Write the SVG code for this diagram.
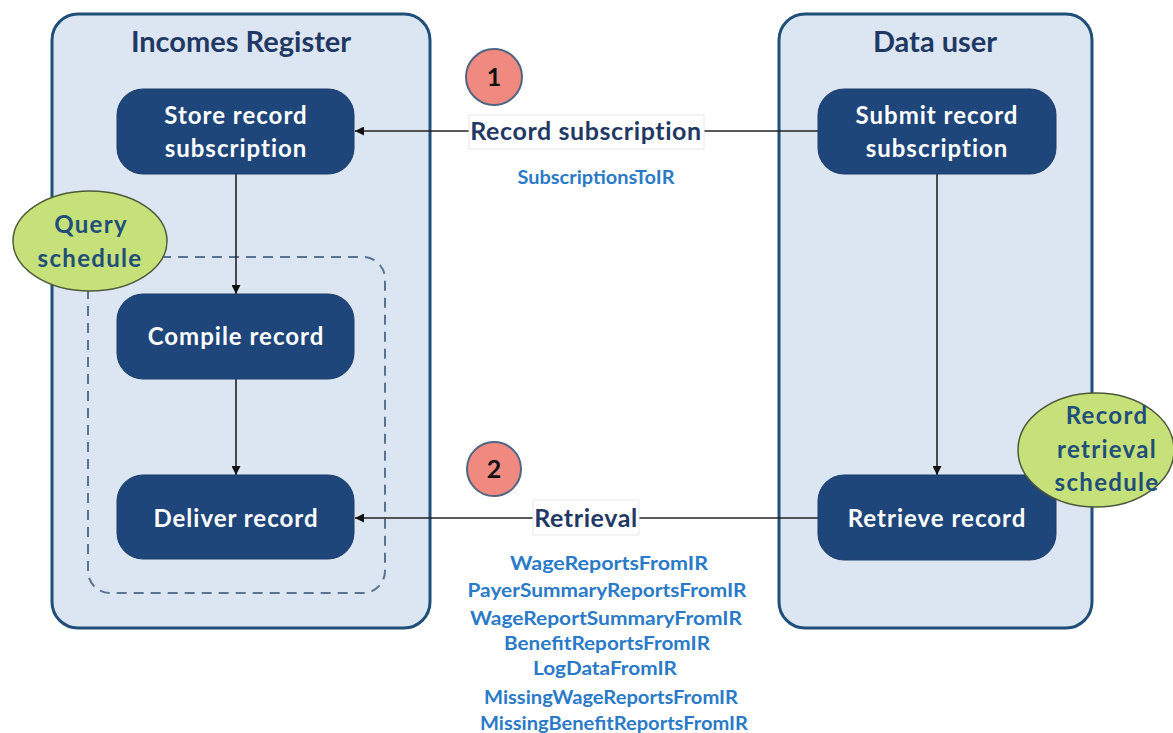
<svg xmlns="http://www.w3.org/2000/svg" width="1173" height="733" viewBox="0 0 1173 733">
<style>
.cont{fill:#dce6f2;stroke:#1f4e79;stroke-width:3}
.title{font-family:Lato,"Liberation Sans",sans-serif;font-weight:bold;font-size:29px;fill:#1f3864;text-anchor:middle}
.node{fill:#1f467a;stroke:#1a3d6b;stroke-width:1}
.ntext{font-family:Lato,"Liberation Sans",sans-serif;font-weight:bold;font-size:24px;letter-spacing:1px;fill:#ffffff;text-anchor:middle}
.ell{fill:#c6e07a;stroke:#4d5a3a;stroke-width:1.5}
.etext{font-family:Lato,"Liberation Sans",sans-serif;font-weight:bold;font-size:24px;letter-spacing:1.3px;fill:#1f4e79;text-anchor:middle}
.num{fill:#f08a80;stroke:#4f6583;stroke-width:2}
.ntxt{font-family:Lato,"Liberation Sans",sans-serif;font-weight:bold;font-size:25px;fill:#111;text-anchor:middle}
.lbl{font-family:Lato,"Liberation Sans",sans-serif;font-weight:bold;font-size:25px;letter-spacing:0.6px;fill:#1f3864;text-anchor:middle}
.lblbox{fill:#ffffff;stroke:#e4e8ee;stroke-width:1}
.blue{font-family:Lato,"Liberation Sans",sans-serif;font-weight:bold;font-size:18px;fill:#2a7ac8;text-anchor:middle}
.conn{stroke:#222;stroke-width:1.6;fill:none}
</style>
<defs>
<marker id="arr" viewBox="0 0 10 10" refX="10" refY="5" markerWidth="9" markerHeight="9" markerUnits="userSpaceOnUse" orient="auto">
<path d="M0,0 L10,5 L0,10 z" fill="#111"/>
</marker>
</defs>
<rect width="1173" height="733" fill="#ffffff"/>
<g id="incomes-register">
<rect class="cont" x="52" y="14" width="378" height="614" rx="26"/>
<text class="title" x="241" y="52">Incomes Register</text>
</g>
<g id="data-user">
<rect class="cont" x="779" y="14" width="313" height="614" rx="26"/>
<text class="title" x="935" y="52">Data user</text>
</g>
<g id="query-group">
<rect x="88" y="257" width="297" height="336" rx="22" fill="none" stroke="#5b7393" stroke-width="2" stroke-dasharray="10,7"/>
</g>
<g id="connectors">
<line class="conn" x1="236" y1="174" x2="236" y2="294" marker-end="url(#arr)"/>
<line class="conn" x1="236" y1="379" x2="236" y2="475" marker-end="url(#arr)"/>
<line class="conn" x1="937" y1="174" x2="937" y2="475" marker-end="url(#arr)"/>
<line class="conn" x1="818" y1="131" x2="355" y2="131" marker-end="url(#arr)"/>
<line class="conn" x1="818" y1="518" x2="355" y2="518" marker-end="url(#arr)"/>
</g>
<g id="store-record">
<rect class="node" x="117" y="89" width="237" height="85" rx="26"/>
<text class="ntext" x="236" y="124">Store record</text>
<text class="ntext" x="236" y="157">subscription</text>
</g>
<g id="compile-record">
<rect class="node" x="117" y="294" width="237" height="85" rx="26"/>
<text class="ntext" x="236" y="345">Compile record</text>
</g>
<g id="deliver-record">
<rect class="node" x="117" y="475" width="237" height="84" rx="26"/>
<text class="ntext" x="236" y="527">Deliver record</text>
</g>
<g id="submit-record">
<rect class="node" x="818" y="89" width="238" height="85" rx="26"/>
<text class="ntext" x="937" y="124">Submit record</text>
<text class="ntext" x="937" y="157">subscription</text>
</g>
<g id="retrieve-record">
<rect class="node" x="818" y="475" width="238" height="85" rx="26"/>
<text class="ntext" x="937" y="527">Retrieve record</text>
</g>
<g id="query-schedule">
<ellipse class="ell" cx="90" cy="241" rx="77" ry="50"/>
<text class="etext" x="91" y="233">Query</text>
<text class="etext" x="90" y="267">schedule</text>
</g>
<g id="record-retrieval-schedule">
<ellipse class="ell" cx="1096" cy="450" rx="78" ry="57"/>
<text class="etext" x="1107" y="424">Record</text>
<text class="etext" x="1107" y="458">retrieval</text>
<text class="etext" x="1107" y="491">schedule</text>
</g>
<g id="step-1">
<circle class="num" cx="494" cy="77" r="28"/>
<text class="ntxt" x="494" y="86">1</text>
</g>
<g id="step-2">
<circle class="num" cx="494" cy="469" r="27"/>
<text class="ntxt" x="494" y="478">2</text>
</g>
<g id="label-record-subscription">
<rect class="lblbox" x="469" y="115" width="235" height="34"/>
<text class="lbl" x="586" y="140">Record subscription</text>
<text class="blue" x="596" y="184" textLength="157" lengthAdjust="spacingAndGlyphs">SubscriptionsToIR</text>
</g>
<g id="label-retrieval">
<rect class="lblbox" x="533" y="500" width="106" height="35"/>
<text class="lbl" x="586" y="527">Retrieval</text>
<text class="blue" x="609" y="570" textLength="198" lengthAdjust="spacingAndGlyphs">WageReportsFromIR</text>
<text class="blue" x="607" y="597" textLength="279" lengthAdjust="spacingAndGlyphs">PayerSummaryReportsFromIR</text>
<text class="blue" x="606" y="625" textLength="272" lengthAdjust="spacingAndGlyphs">WageReportSummaryFromIR</text>
<text class="blue" x="607" y="650" textLength="206" lengthAdjust="spacingAndGlyphs">BenefitReportsFromIR</text>
<text class="blue" x="605" y="675" textLength="144" lengthAdjust="spacingAndGlyphs">LogDataFromIR</text>
<text class="blue" x="611" y="704" textLength="254" lengthAdjust="spacingAndGlyphs">MissingWageReportsFromIR</text>
<text class="blue" x="614" y="730" textLength="268" lengthAdjust="spacingAndGlyphs">MissingBenefitReportsFromIR</text>
</g>
</svg>
